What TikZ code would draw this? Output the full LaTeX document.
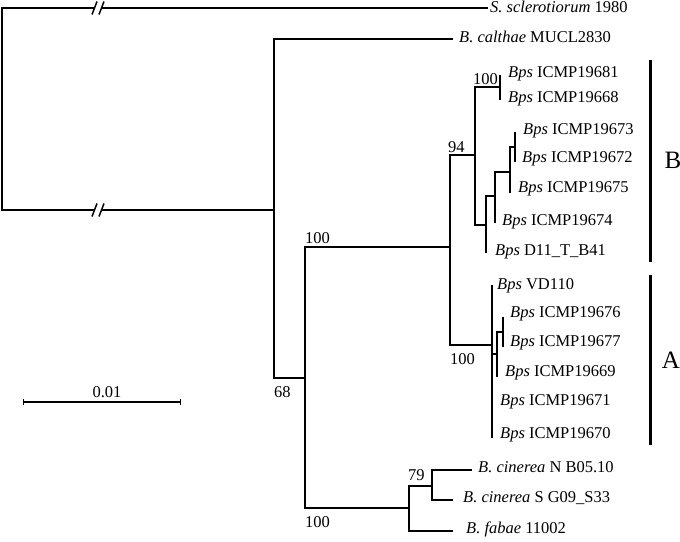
\documentclass[tikz,border=0pt]{standalone}
\usepackage{fontspec}
\setmainfont{Liberation Serif}
\begin{document}
\begin{tikzpicture}[x=1pt,y=-1pt,
  br/.style={line width=1.5pt},
  lab/.style={anchor=mid west, inner sep=0pt, font=\fontsize{16.5}{19}\selectfont},
  bs/.style={anchor=base west, inner sep=0pt, font=\fontsize{16.5}{19}\selectfont},
  cladebar/.style={line width=3pt},
  cladename/.style={inner sep=0pt, font=\fontsize{25}{30}\selectfont},
  slash/.style={line width=1.5pt}]
\useasboundingbox (0,0) rectangle (680,541);
% internal nodes
\coordinate (root) at (2,109);
\coordinate (b1a) at (94.5,8);
\coordinate (b1b) at (101.5,8);
\coordinate (b2a) at (94.5,210);
\coordinate (b2b) at (101.5,210);
\coordinate (n68) at (274,210);
\coordinate (n100a) at (305,378);
\coordinate (n100b) at (450,247);
\coordinate (nB) at (475,155);
\coordinate (n100c) at (500,87);
\coordinate (nB2) at (486,225);
\coordinate (nB3) at (495,196);
\coordinate (nB4) at (510,172);
\coordinate (nB5) at (515,147);
\coordinate (nA) at (492,345);
\coordinate (nA2) at (497,354);
\coordinate (nA3) at (503,332);
\coordinate (ncin) at (409,508);
\coordinate (ncin2) at (432,486);
% tips
\coordinate (tScl) at (488,8);
\coordinate (tCal) at (453,39);
\coordinate (t19681) at (500,75);
\coordinate (t19668) at (500,100);
\coordinate (t19673) at (515,132);
\coordinate (t19672) at (515,162);
\coordinate (t19675) at (510,193);
\coordinate (t19674) at (495,223);
\coordinate (tD11) at (486,253);
\coordinate (tVD) at (492,285);
\coordinate (t19676) at (503,317);
\coordinate (t19677) at (503,347);
\coordinate (t19669) at (497,377);
\coordinate (t19671) at (492,405);
\coordinate (t19670) at (492,438);
\coordinate (tcinN) at (472,470);
\coordinate (tcinS) at (453,500);
\coordinate (tfab) at (453,531);
% labels
\node[lab] (lScl) at (490,10.5) {\textit{S. sclerotiorum} 1980};
\node[lab] (lCal) at (459,40.5) {\textit{B. calthae} MUCL2830};
\node[lab] (l19681) at (508,75) {\textit{Bps} ICMP19681};
\node[lab] (l19668) at (508,100) {\textit{Bps} ICMP19668};
\node[lab] (l19673) at (523,132) {\textit{Bps} ICMP19673};
\node[lab] (l19672) at (522,160) {\textit{Bps} ICMP19672};
\node[lab] (l19675) at (518,190) {\textit{Bps} ICMP19675};
\node[lab] (l19674) at (502,223) {\textit{Bps} ICMP19674};
\node[lab] (lD11) at (495,253) {\textit{Bps} D11\_T\_B41};
\node[lab] (lVD) at (497,287) {\textit{Bps} VD110};
\node[lab] (l19676) at (510,315) {\textit{Bps} ICMP19676};
\node[lab] (l19677) at (510,344) {\textit{Bps} ICMP19677};
\node[lab] (l19669) at (505,374) {\textit{Bps} ICMP19669};
\node[lab] (l19671) at (500,403) {\textit{Bps} ICMP19671};
\node[lab] (l19670) at (500,436) {\textit{Bps} ICMP19670};
\node[lab] (lcinN) at (478,470) {\textit{B. cinerea} N B05.10};
\node[lab] (lcinS) at (463,500) {\textit{B. cinerea} S G09\_S33};
\node[lab] (lfab) at (466,531) {\textit{B. fabae} 11002};
% branches
\draw[br] (root) |- (b1a);
\draw[br] (b1b) -- (tScl);
\draw[br] (root) |- (b2a);
\draw[br] (b2b) -- (n68);
\draw[slash] ([shift={(-2.5,6.5)}]b1a) -- ([shift={(2.5,-6.5)}]b1a);
\draw[slash] ([shift={(-2.5,6.5)}]b1b) -- ([shift={(2.5,-6.5)}]b1b);
\draw[slash] ([shift={(-2.5,6.5)}]b2a) -- ([shift={(2.5,-6.5)}]b2a);
\draw[slash] ([shift={(-2.5,6.5)}]b2b) -- ([shift={(2.5,-6.5)}]b2b);
\draw[br] (n68) |- (tCal);
\draw[br] (n68) |- (n100a);
\draw[br] (n100a) |- (n100b);
\draw[br] (n100a) |- (ncin);
\draw[br] (n100b) |- (nB);
\draw[br] (n100b) |- (nA);
\draw[br] (nB) |- (n100c);
\draw[br] (nB) |- (nB2);
\draw[br] (n100c) |- (t19681);
\draw[br] (n100c) |- (t19668);
\draw[br] (nB2) |- (nB3);
\draw[br] (nB2) |- (tD11);
\draw[br] (nB3) |- (nB4);
\draw[br] (nB3) |- (t19674);
\draw[br] (nB4) |- (nB5);
\draw[br] (nB4) |- (t19675);
\draw[br] (nB5) |- (t19673);
\draw[br] (nB5) |- (t19672);
\draw[br] (nA) |- (tVD);
\draw[br] (nA) |- (nA2);
\draw[br] (nA) |- (t19671);
\draw[br] (nA) |- (t19670);
\draw[br] (nA2) |- (nA3);
\draw[br] (nA2) |- (t19669);
\draw[br] (nA3) |- (t19676);
\draw[br] (nA3) |- (t19677);
\draw[br] (ncin) |- (ncin2);
\draw[br] (ncin) |- (tfab);
\draw[br] (ncin2) |- (tcinN);
\draw[br] (ncin2) |- (tcinS);
% bootstrap values
\node[bs] (s100a) at (305,243) {100};
\node[bs] (s94) at (448,152) {94};
\node[bs] (s100c) at (473,84) {100};
\node[bs] (s100A) at (450,364) {100};
\node[bs] (s68) at (274,397) {68};
\node[bs] (s79) at (408,480) {79};
\node[bs] (s100cin) at (305,527) {100};
% clade bars
\coordinate (Btop) at (650,60);
\coordinate (Bbot) at (650,262);
\coordinate (Atop) at (650,275);
\coordinate (Abot) at (650,445);
\draw[cladebar] (Btop) -- (Bbot);
\draw[cladebar] (Atop) -- (Abot);
\node[cladename] (cB) at (673,160) {B};
\node[cladename] (cA) at (671,360) {A};
% scale bar
\coordinate (sL) at (23,402);
\coordinate (sR) at (180,402);
\draw[br] (sL) -- (sR);
\draw[line width=1pt] ([yshift=-3]sL) -- ([yshift=3]sL);
\draw[line width=1pt] ([yshift=-3]sR) -- ([yshift=3]sR);
\node[bs, anchor=base] (sc) at (107,397) {0.01};
\end{tikzpicture}
\end{document}
